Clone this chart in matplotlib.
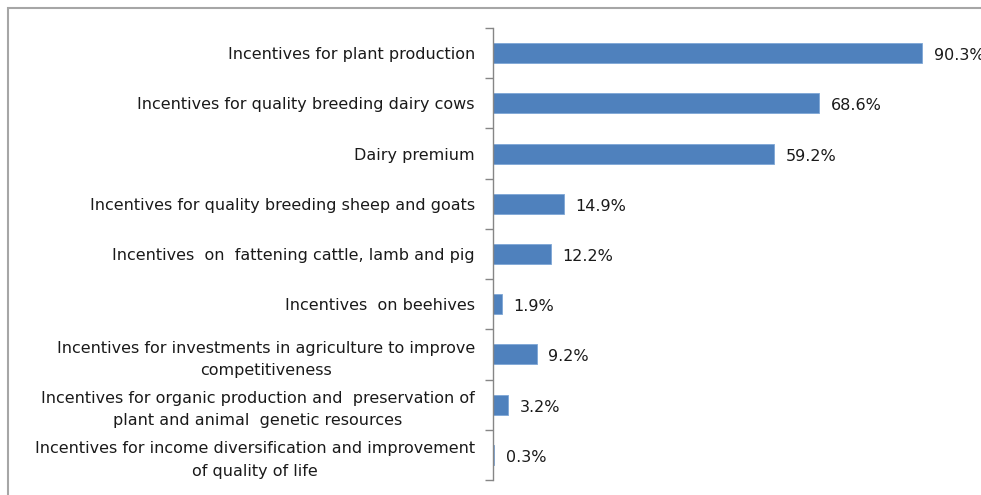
import matplotlib.pyplot as plt
from matplotlib.patches import Rectangle
import numpy as np

categories = [
    'Incentives for plant production',
    'Incentives for quality breeding dairy cows',
    'Dairy premium',
    'Incentives for quality breeding sheep and goats',
    'Incentives  on  fattening cattle, lamb and pig',
    'Incentives  on beehives',
    'Incentives for investments in agriculture to improve\ncompetitiveness',
    'Incentives for organic production and  preservation of\nplant and animal  genetic resources',
    'Incentives for income diversification and improvement\nof quality of life',
]
values = [90.3, 68.6, 59.2, 14.9, 12.2, 1.9, 9.2, 3.2, 0.3]

fig = plt.figure(figsize=(9.81, 4.95), dpi=100)
ax = fig.add_axes([0.5025, 0.0303, 0.4845, 0.9131])

# outer chart border
fig.patches.append(Rectangle((8 / 981, -0.1), 1.2, (495 - 8) / 495 + 0.1,
                             transform=fig.transFigure, fill=False,
                             edgecolor='#a6a6a6', linewidth=1.5))

y = np.arange(len(categories))
ax.barh(y, values, height=0.4, color='#4f81bd', edgecolor='#7ea6d6', linewidth=0.6)
ax.set_ylim(len(categories) - 0.5, -0.5)
ax.set_xlim(0, 100)

for yi, v in zip(y, values):
    ax.text(v + 2.4, yi + 0.05, f'{v}%', va='center', ha='left', fontsize=11.5, color='#1a1a1a')

ax.set_yticks(y)
ax.set_yticklabels(categories, fontsize=11.5, color='#1a1a1a',
                   multialignment='center', linespacing=1.6)
ax.tick_params(axis='y', which='major', length=0, pad=13)
ax.set_yticks(np.arange(-0.5, len(categories)), minor=True)
ax.tick_params(axis='y', which='minor', length=6, color='#868686', width=1)

ax.set_xticks([])
for s in ['top', 'right', 'bottom']:
    ax.spines[s].set_visible(False)
ax.spines['left'].set_color('#868686')
ax.spines['left'].set_linewidth(1)

fig.savefig('out.png', dpi=100)
